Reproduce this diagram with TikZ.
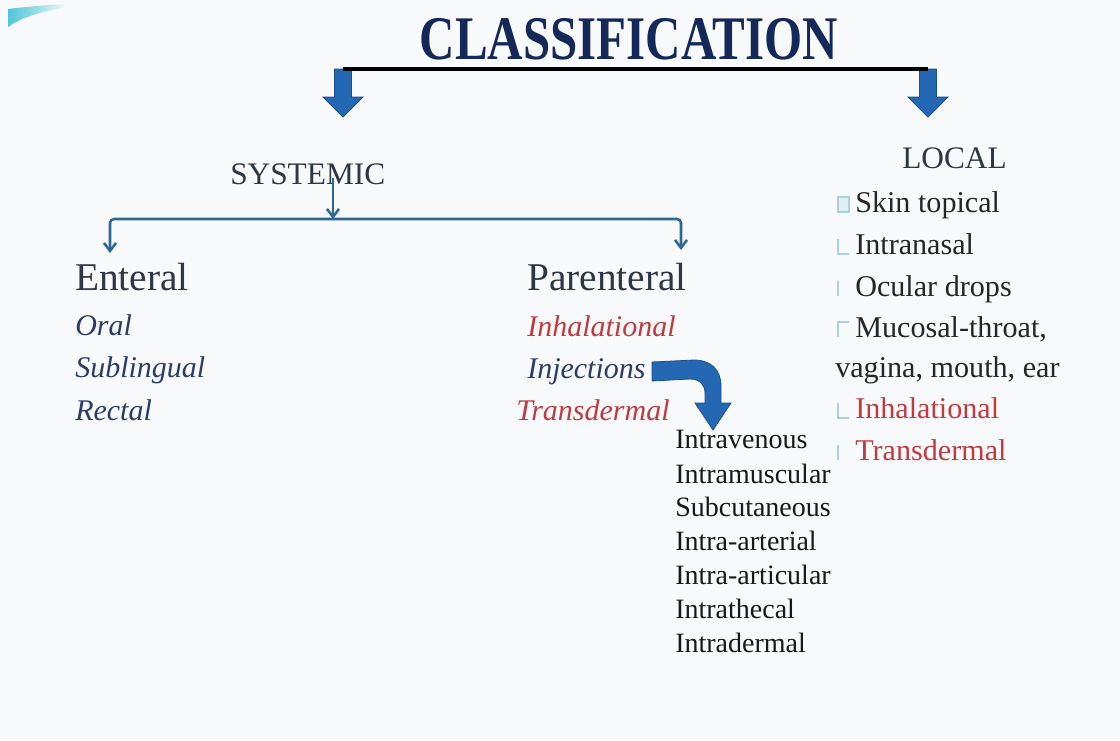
\documentclass[tikz,border=0pt]{standalone}
\usepackage{fontspec}
\setmainfont{Liberation Serif}
\usetikzlibrary{arrows.meta,calc}

\definecolor{bgcol}{HTML}{F8F9FA}
\definecolor{titleblue}{HTML}{14285A}
\definecolor{arrowblue}{HTML}{2468B4}
\definecolor{arrowedge}{HTML}{1B4F8C}
\definecolor{linkblue}{HTML}{2D6895}
\definecolor{headgray}{HTML}{2F3644}
\definecolor{navy}{HTML}{2B3B6A}
\definecolor{routered}{HTML}{C23A3F}
\definecolor{glyphcol}{HTML}{A9D2D9}
\definecolor{swoosh}{HTML}{52C6D8}

\begin{document}
\begin{tikzpicture}[x=0.75pt, y=-0.75pt,
    txt/.style={inner sep=0pt, anchor=base west},
    heading/.style={txt, text=headgray, font=\fontsize{23.5}{28}\selectfont},
    branch/.style={txt, text=headgray, font=\fontsize{29.5}{34}\selectfont},
    route/.style={txt, text=navy, font=\fontsize{22.5}{27}\itshape\selectfont},
    redroute/.style={route, text=routered},
    localitem/.style={txt, text=black!85, font=\fontsize{22.6}{27}\selectfont},
    injitem/.style={txt, text=black!90, font=\fontsize{21}{25}\selectfont},
    glyph/.style={draw=glyphcol, line width=1pt},
    syslink/.style={draw=linkblue, line width=1.9pt},
    blockdown/.pic={
        \filldraw[fill=arrowblue, draw=arrowedge, line width=0.6pt]
            (-8.5,0) -- (8.5,0) -- (8.5,28) -- (20,28) -- (0,48)
            -- (-20,28) -- (-8.5,28) -- cycle;
    }]
    \useasboundingbox (0,0) rectangle (1120,740);
    \fill[bgcol] (0,0) rectangle (1120,740);

    % Corner swoosh
    \shade[left color=swoosh, right color=bgcol, middle color=swoosh!60]
        (8,9) .. controls (25,7) and (45,5) .. (66,4)
        -- (62,8) .. controls (40,12) and (20,18) .. (8,27) -- cycle;

    % Title
    \node[inner sep=0pt, anchor=base, text=titleblue,
          font=\fontsize{46.5}{50}\bfseries\selectfont]
        (title) at (629,59) {\scalebox{0.79}[1]{CLASSIFICATION}};

    % Main split
    \coordinate (topL) at (343,69);
    \coordinate (topR) at (928,69);
    \pic at (topL) {blockdown};
    \pic at (topR) {blockdown};
    \draw[line width=2.8pt] (topL) -- (topR);

    % Systemic
    \node[heading] (sys) at (230,184) {SYSTEMIC};
    \coordinate (sysdrop) at (333,178);
    \coordinate (split) at (333,219);
    \draw[syslink, -{Straight Barb[length=6pt, width=9pt]}] (sysdrop) -- (split);

    \node[branch] (ent) at (75,290) {Enteral};
    \node[branch] (par) at (527,290) {Parenteral};
    \coordinate (entdrop) at (110,253);
    \coordinate (pardrop) at (681,250);
    \draw[syslink, rounded corners=3pt,
          {Straight Barb[length=6pt, width=9pt]}-{Straight Barb[length=6pt, width=9pt]}]
        (entdrop) |- (split) -| (pardrop);

    % Enteral routes
    \node[route] (oral) at (75,335) {Oral};
    \node[route] (subl) at (75,377) {Sublingual};
    \node[route] (rect) at (75,420) {Rectal};

    % Parenteral routes
    \node[redroute] (inhal) at (527,336) {Inhalational};
    \node[route] (inj) at (527,378) {Injections};
    \node[redroute] (trans) at (516,420) {Transdermal};

    % Curved arrow to injection list
    \coordinate (curvestart) at (652,362);
    \filldraw[fill=arrowblue, draw=arrowedge, line width=0.6pt]
        (curvestart) -- (694,360) .. controls (711,360) and (721,370) .. (721,386)
        -- (721,403) -- (731,403) -- (713,430) -- (695,403) -- (705,403)
        -- (705,393) .. controls (705,385) and (700,379) .. (690,379)
        -- (652,381) -- cycle;

    \node[injitem] (iv) at (675,448) {Intravenous};
    \node[injitem] (im) at (675,483) {Intramuscular};
    \node[injitem] (sc) at (675,516) {Subcutaneous};
    \node[injitem] (ia) at (675,550) {Intra-arterial};
    \node[injitem] (iart) at (675,584) {Intra-articular};
    \node[injitem] (ith) at (675,618) {Intrathecal};
    \node[injitem] (id) at (675,652) {Intradermal};

    % Local
    \node[heading] (loc) at (902,168) {LOCAL};
    \node[localitem] (skin) at (855,212) {Skin topical};
    \node[localitem] (nasal) at (855,254) {Intranasal};
    \node[localitem] (ocul) at (855,296) {Ocular drops};
    \node[localitem] (muco) at (855,337) {Mucosal-throat,};
    \node[localitem] (vag) at (835,377) {vagina, mouth, ear};
    \node[localitem, text=routered] (linhal) at (855,418) {Inhalational};
    \node[localitem, text=routered] (ltrans) at (855,460) {Transdermal};

    % Bullet remnants
    \draw[glyph, fill=glyphcol!35] ($(skin.base west)+(-17,0)$) rectangle +(11,-15);
    \draw[glyph] ($(nasal.base west)+(-17,-15)$) |- +(11,15);
    \draw[glyph] ($(ocul.base west)+(-17,-15)$) -- +(0,15);
    \draw[glyph] ($(muco.base west)+(-17,0)$) |- +(11,-15);
    \draw[glyph] ($(linhal.base west)+(-17,-15)$) |- +(11,15);
    \draw[glyph] ($(ltrans.base west)+(-17,-15)$) -- +(0,15);
\end{tikzpicture}
\end{document}
